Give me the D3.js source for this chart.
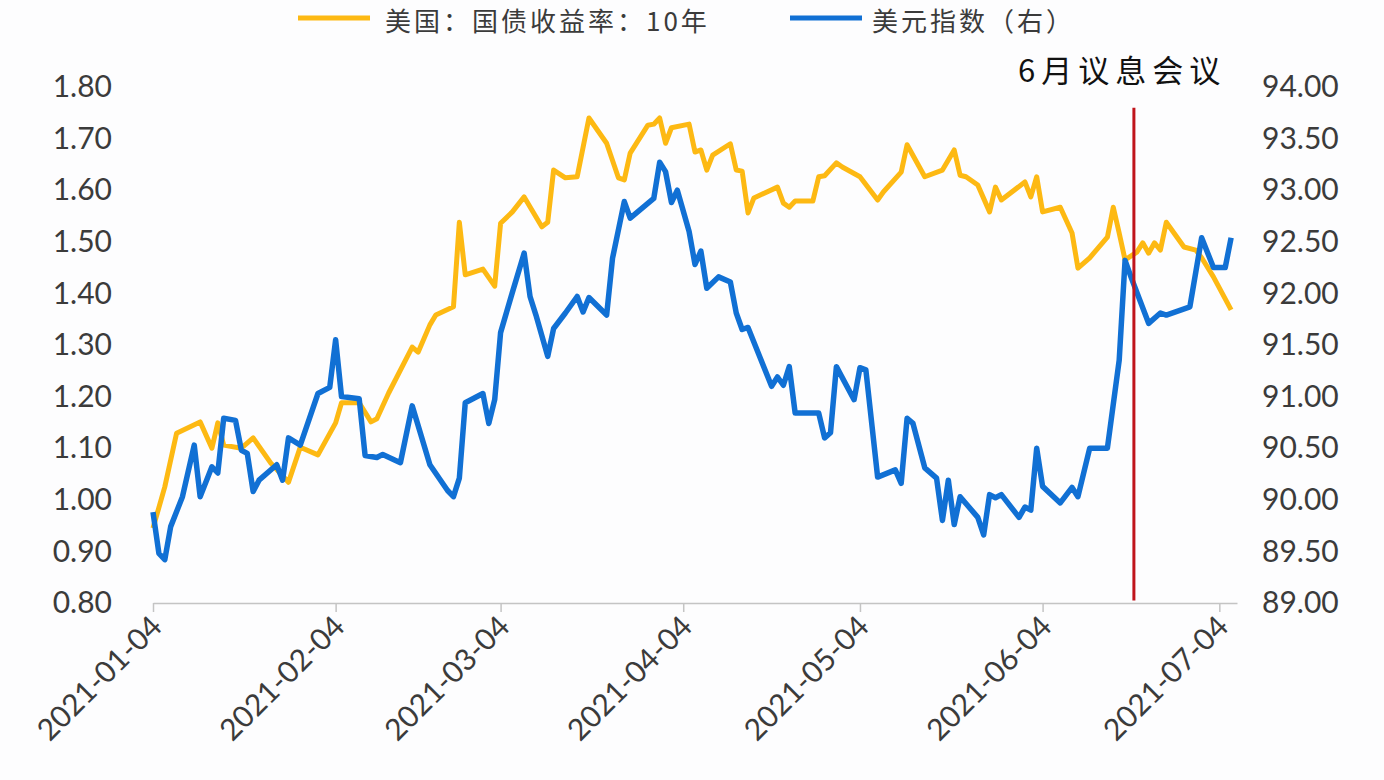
<!DOCTYPE html>
<html><head><meta charset="utf-8">
<script src="https://cdn.jsdelivr.net/npm/d3@7"></script>
<style>body{margin:0;background:#fdfdfe;overflow:hidden}</style>
</head><body><svg id="c" width="1384" height="780"></svg>
<script>
// ---- data ----
const yieldDates = ["2021-01-04","2021-01-06","2021-01-08","2021-01-12","2021-01-14","2021-01-15","2021-01-16","2021-01-19","2021-01-21","2021-01-24","2021-01-27","2021-01-29","2021-02-01","2021-02-04","2021-02-05","2021-02-08","2021-02-10","2021-02-11","2021-02-13","2021-02-17","2021-02-18","2021-02-20","2021-02-21","2021-02-24","2021-02-25","2021-02-26","2021-03-01","2021-03-03","2021-03-04","2021-03-06","2021-03-08","2021-03-11","2021-03-12","2021-03-13","2021-03-15","2021-03-17","2021-03-19","2021-03-22","2021-03-24","2021-03-25","2021-03-26","2021-03-29","2021-03-30","2021-03-31","2021-04-01","2021-04-02","2021-04-05","2021-04-06","2021-04-07","2021-04-08","2021-04-09","2021-04-12","2021-04-13","2021-04-14","2021-04-15","2021-04-16","2021-04-20","2021-04-21","2021-04-22","2021-04-23","2021-04-26","2021-04-27","2021-04-28","2021-04-30","2021-05-01","2021-05-04","2021-05-07","2021-05-08","2021-05-11","2021-05-12","2021-05-15","2021-05-18","2021-05-20","2021-05-21","2021-05-22","2021-05-24","2021-05-26","2021-05-27","2021-05-28","2021-06-01","2021-06-02","2021-06-03","2021-06-04","2021-06-07","2021-06-09","2021-06-10","2021-06-12","2021-06-15","2021-06-16","2021-06-17","2021-06-18","2021-06-20","2021-06-21","2021-06-22","2021-06-23","2021-06-24","2021-06-25","2021-06-28","2021-06-30","2021-07-01","2021-07-03","2021-07-06"];
const yieldValues = [0.945,1.025,1.129,1.151,1.100,1.149,1.106,1.100,1.120,1.071,1.034,1.102,1.087,1.149,1.188,1.188,1.151,1.157,1.207,1.296,1.286,1.339,1.358,1.374,1.538,1.436,1.447,1.414,1.536,1.558,1.587,1.529,1.538,1.639,1.624,1.626,1.740,1.691,1.624,1.620,1.672,1.726,1.728,1.740,1.691,1.721,1.728,1.674,1.678,1.639,1.668,1.690,1.639,1.637,1.556,1.585,1.606,1.575,1.567,1.579,1.579,1.626,1.628,1.653,1.645,1.626,1.581,1.597,1.635,1.688,1.626,1.639,1.678,1.629,1.626,1.610,1.558,1.606,1.581,1.616,1.587,1.626,1.558,1.567,1.517,1.449,1.469,1.509,1.567,1.517,1.465,1.480,1.498,1.478,1.498,1.484,1.538,1.490,1.484,1.469,1.432,1.368];

const dxyDates = ["2021-01-04","2021-01-05","2021-01-06","2021-01-07","2021-01-09","2021-01-11","2021-01-12","2021-01-14","2021-01-15","2021-01-16","2021-01-18","2021-01-19","2021-01-20","2021-01-21","2021-01-22","2021-01-25","2021-01-26","2021-01-27","2021-01-29","2021-02-01","2021-02-03","2021-02-04","2021-02-05","2021-02-08","2021-02-09","2021-02-11","2021-02-12","2021-02-15","2021-02-17","2021-02-20","2021-02-23","2021-02-24","2021-02-25","2021-02-26","2021-03-01","2021-03-02","2021-03-03","2021-03-04","2021-03-06","2021-03-08","2021-03-09","2021-03-10","2021-03-12","2021-03-13","2021-03-15","2021-03-17","2021-03-18","2021-03-19","2021-03-22","2021-03-23","2021-03-25","2021-03-26","2021-03-30","2021-03-31","2021-04-01","2021-04-02","2021-04-03","2021-04-05","2021-04-06","2021-04-07","2021-04-08","2021-04-10","2021-04-12","2021-04-13","2021-04-14","2021-04-15","2021-04-19","2021-04-20","2021-04-21","2021-04-22","2021-04-23","2021-04-27","2021-04-28","2021-04-29","2021-04-30","2021-05-03","2021-05-04","2021-05-05","2021-05-07","2021-05-10","2021-05-11","2021-05-12","2021-05-13","2021-05-15","2021-05-17","2021-05-18","2021-05-19","2021-05-20","2021-05-21","2021-05-24","2021-05-25","2021-05-26","2021-05-27","2021-05-28","2021-05-31","2021-06-01","2021-06-02","2021-06-03","2021-06-04","2021-06-07","2021-06-09","2021-06-10","2021-06-12","2021-06-15","2021-06-17","2021-06-18","2021-06-19","2021-06-22","2021-06-24","2021-06-25","2021-06-29","2021-07-01","2021-07-03","2021-07-05","2021-07-06"];
const dxyValues = [89.88,89.48,89.42,89.74,90.03,90.53,90.03,90.32,90.26,90.79,90.77,90.48,90.45,90.08,90.19,90.34,90.19,90.60,90.53,91.03,91.09,91.55,91.00,90.98,90.43,90.41,90.44,90.36,90.91,90.34,90.09,90.03,90.21,90.94,91.03,90.74,90.97,91.62,92.01,92.39,91.97,91.79,91.39,91.66,91.81,91.97,91.82,91.96,91.79,92.34,92.89,92.73,92.92,93.27,93.18,92.88,93.00,92.60,92.28,92.41,92.05,92.16,92.11,91.81,91.65,91.67,91.10,91.19,91.11,91.29,90.84,90.84,90.60,90.65,91.29,90.97,91.28,91.26,90.22,90.29,90.16,90.79,90.74,90.31,90.21,89.80,90.19,89.76,90.03,89.83,89.66,90.05,90.02,90.05,89.83,89.93,89.90,90.50,90.13,89.97,90.12,90.03,90.50,90.50,91.35,92.32,92.16,91.71,91.81,91.79,91.87,92.54,92.25,92.25,92.54];

const xTickLabels = ["2021-01-04","2021-02-04","2021-03-04","2021-04-04","2021-05-04","2021-06-04","2021-07-04"];
const leftTicks = [0.8,0.9,1.0,1.1,1.2,1.3,1.4,1.5,1.6,1.7,1.8];
const rightTicks = [89,89.5,90,90.5,91,91.5,92,92.5,93,93.5,94];
const seriesNames = ["美国：国债收益率：10年","美元指数（右）"];
const seriesColors = ["#FDB913","#1170D4"];
const eventDate = "2021-06-19T12:00";
const eventLabel = "6月议息会议";
const xDomainEnd = "2021-07-07";

// ---- chart ----
const parse = d3.timeParse("%Y-%m-%d");
const parseT = d3.timeParse("%Y-%m-%dT%H:%M");
const svg = d3.select("#c");
const numFont = "Lato, 'Open Sans', sans-serif";
const cjkFont = "'Noto Sans CJK SC', sans-serif";
const textColor = "#3b3b3b";

const x = d3.scaleTime().domain([parse("2021-01-04"), parse(xDomainEnd)]).range([153, 1237]);
const yL = d3.scaleLinear().domain([0.8, 1.8]).range([603, 87]);
const yR = d3.scaleLinear().domain([89, 94]).range([603, 87]);

// x axis
const xAxis = svg.append("g").attr("transform", "translate(0,603)")
  .call(d3.axisBottom(x).tickValues(xTickLabels.map(parse)).tickSize(9).tickSizeOuter(0)
    .tickFormat((d, i) => xTickLabels[i]));
xAxis.select(".domain").attr("stroke", "#c4c4c4").attr("stroke-width", 1.5);
xAxis.selectAll(".tick line").attr("stroke", "#c4c4c4").attr("stroke-width", 1.5);
xAxis.selectAll(".tick text")
  .attr("font-family", numFont).attr("font-size", 30).attr("fill", textColor)
  .attr("text-anchor", "end").attr("dy", null).attr("y", null)
  .attr("transform", "translate(5,20) rotate(-45)")
  .attr("dominant-baseline", "middle");

// left axis
const la = svg.append("g").attr("transform", "translate(153,0)")
  .call(d3.axisLeft(yL).tickValues(leftTicks).tickSize(0).tickPadding(41).tickFormat(d3.format(".2f")));
la.select(".domain").remove();
la.selectAll("text").attr("font-family", numFont).attr("font-size", 30).attr("fill", textColor);

// right axis
const ra = svg.append("g").attr("transform", "translate(1237,0)")
  .call(d3.axisRight(yR).tickValues(rightTicks).tickSize(0).tickPadding(25).tickFormat(d3.format(".2f")));
ra.select(".domain").remove();
ra.selectAll("text").attr("font-family", numFont).attr("font-size", 30).attr("fill", textColor);

// lines
const yieldData = yieldDates.map((d, i) => ({ d: parse(d), v: yieldValues[i] }));
const dxyData = dxyDates.map((d, i) => ({ d: parse(d), v: dxyValues[i] }));
svg.append("path").datum(yieldData)
  .attr("d", d3.line().x(p => x(p.d)).y(p => yL(p.v)))
  .attr("fill", "none").attr("stroke", seriesColors[0]).attr("stroke-width", 5)
  .attr("stroke-linejoin", "round");
svg.append("path").datum(dxyData)
  .attr("d", d3.line().x(p => x(p.d)).y(p => yR(p.v)))
  .attr("fill", "none").attr("stroke", seriesColors[1]).attr("stroke-width", 5.5)
  .attr("stroke-linejoin", "round");

// event line
const ex = x(parseT(eventDate));
svg.append("line").attr("x1", ex).attr("x2", ex).attr("y1", yL(1.76)).attr("y2", yL(0.805))
  .attr("stroke", "#C0141C").attr("stroke-width", 3);
svg.append("text").attr("x", 1018).attr("y", 74).attr("dominant-baseline", "middle")
  .attr("font-family", cjkFont).attr("font-size", 31).attr("letter-spacing", 6)
  .attr("fill", "#111").text(eventLabel);

// legend
const lg = [{x: 298, tx: 385}, {x: 790, tx: 872}];
lg.forEach((l, i) => {
  svg.append("line").attr("x1", l.x).attr("x2", l.x + 72).attr("y1", 18).attr("y2", 18)
    .attr("stroke", seriesColors[i]).attr("stroke-width", 5);
  svg.append("text").attr("x", l.tx).attr("y", 31).attr("font-family", cjkFont)
    .attr("font-size", 26).attr("letter-spacing", 3)
    .attr("fill", textColor).text(seriesNames[i]);
});
</script></body></html>
